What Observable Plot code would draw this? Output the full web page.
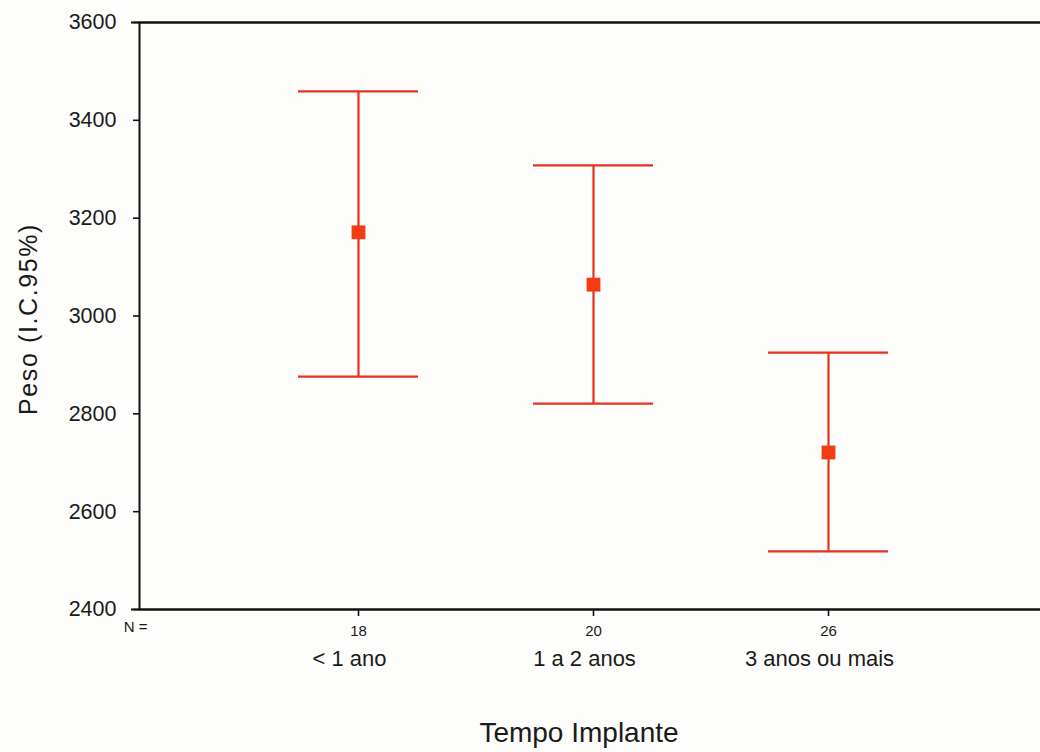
<!DOCTYPE html>
<html>
<head>
<meta charset="utf-8">
<script src="https://cdn.jsdelivr.net/npm/d3@7"></script>
<script src="https://cdn.jsdelivr.net/npm/@observablehq/plot@0.6"></script>
<style>
  html, body { margin: 0; padding: 0; background: #fdfdfb; overflow: hidden; }
  svg { display: block; }
</style>
</head>
<body>
<div id="chart"></div>
<script>
// Data
const categories = ["< 1 ano", "1 a 2 anos", "3 anos ou mais"];
const counts = [18, 20, 26];
const means = [3171, 3064, 2721];
const lower = [2876, 2821, 2519];
const upper = [3459, 3308, 2925];
const yTicks = [2400, 2600, 2800, 3000, 3200, 3400, 3600];

const rows = categories.map((c, i) => ({cat: c, n: counts[i], mean: means[i], lo: lower[i], hi: upper[i]}));
const nByCat = new Map(rows.map(d => [d.cat, d.n]));

const red = "#e8301e";
const font = "'Liberation Sans', Arial, Helvetica, sans-serif";

const svg = Plot.plot({
  width: 1040,
  height: 752,
  marginLeft: 139,
  marginRight: 0,
  marginTop: 22,
  marginBottom: 143,
  style: {background: "#fdfdfb", fontFamily: font, color: "#1a1a1a", overflow: "visible"},
  x: {type: "band", domain: categories, range: [297, 889], paddingInner: 0.49, paddingOuter: 0, label: null},
  y: {domain: [2400, 3600], label: null},
  marks: [
    Plot.frame({stroke: "#111", strokeWidth: 2, insetRight: -12}),
    Plot.ruleY([2400, 3600], {stroke: "#111", strokeWidth: 2, insetLeft: -8, insetRight: -12}),
    Plot.axisY({ticks: yTicks, tickFormat: d => String(d), tickSize: 6, tickPadding: 17, fontSize: 21.5, stroke: "#111", strokeWidth: 1.6, label: null, fill: "#1a1a1a"}),
    Plot.axisX({tickSize: 7, tickPadding: 9, fontSize: 15, stroke: "#111", strokeWidth: 1.6, tickFormat: d => String(nByCat.get(d)), label: null}),
    Plot.text(["N ="], {frameAnchor: "bottom-left", textAnchor: "middle", dx: -4, dy: 22, fontSize: 15}),
    Plot.text(rows, {x: "cat", text: "cat", frameAnchor: "bottom", dx: -9, dy: 56, fontSize: 22}),
    Plot.text(["Tempo Implante"], {frameAnchor: "bottom", dx: -11, dy: 132, fontSize: 28}),
    Plot.text(["Peso (I.C.95%)"], {frameAnchor: "left", textAnchor: "middle", rotate: -90, dx: -111, dy: 3, fontSize: 25}),
    // error bars
    Plot.ruleX(rows, {x: "cat", y1: "lo", y2: "hi", stroke: red, strokeWidth: 2.2}),
    Plot.tickY(rows, {x: "cat", y: "hi", stroke: red, strokeWidth: 2.2}),
    Plot.tickY(rows, {x: "cat", y: "lo", stroke: red, strokeWidth: 2.2}),
    Plot.dot(rows, {x: "cat", y: "mean", symbol: "square", r: 7.8, fill: "#f23c14", stroke: "none"})
  ]
});

svg.querySelectorAll("text").forEach(t => {
  if (t.textContent === "Peso (I.C.95%)") t.setAttribute("letter-spacing", "1.6");
});

document.getElementById("chart").appendChild(svg);
</script>
</body>
</html>
